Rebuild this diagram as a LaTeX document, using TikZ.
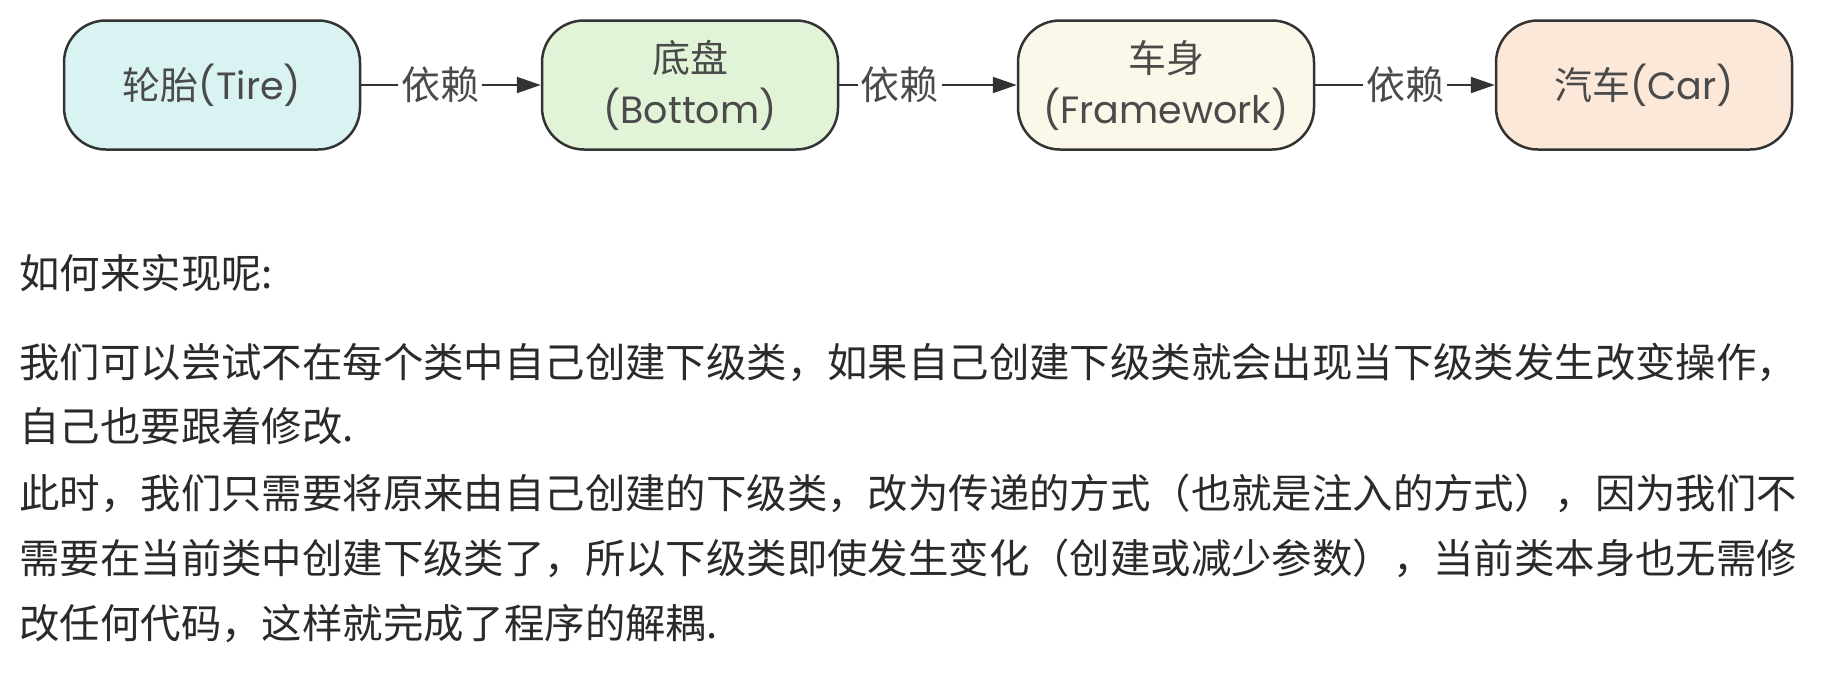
\documentclass[tikz,border=0pt]{standalone}
\usepackage{fontspec}
\setmainfont{Noto Sans CJK SC}
\newfontfamily\latf{Poppins}
\usetikzlibrary{arrows.meta}
\definecolor{tirefill}{HTML}{D9F2F2}
\definecolor{bottomfill}{HTML}{E2F4D8}
\definecolor{framefill}{HTML}{FBF8E9}
\definecolor{carfill}{HTML}{FBE8D9}
\definecolor{boxline}{HTML}{333333}
\definecolor{boxtext}{HTML}{4A4A4A}
\definecolor{bodytext}{HTML}{2A2A2A}
\tikzset{
  cls/.style={draw=boxline, line width=1.25pt, rounded corners=21pt,
    minimum width=148pt, minimum height=64.5pt, align=center,
    text=boxtext, font=\fontsize{19}{25.5}\selectfont, inner sep=0pt},
  dep/.style={draw=boxline, line width=1pt,
    -{Triangle[length=12pt,width=8pt]}},
  lbl/.style={fill=white, text=boxtext, inner sep=1.5pt,
    font=\fontsize{19.5}{22}\selectfont},
  para/.style={anchor=west, inner sep=0pt, text=bodytext,
    font=\fontsize{20.2}{24}\selectfont, text height=0.8em, text depth=0.2em},
}
\begin{document}
\begin{tikzpicture}[x=0.5pt, y=-0.5pt]
\useasboundingbox[fill=white] (0,0) rectangle (1823,687);
\node[cls, fill=tirefill]   (tire)   at (212,85)  {轮胎{\latf(Tire)}};
\node[cls, fill=bottomfill] (bottom) at (690,85)  {底盘\\{\latf(Bottom)}};
\node[cls, fill=framefill]  (frame)  at (1166,85) {车身\\{\latf(Framework)}};
\node[cls, fill=carfill]    (car)    at (1644,85) {汽车{\latf(Car)}};
\draw[dep] (tire)   -- node[lbl, pos=0.44] {依赖} (bottom);
\draw[dep] (bottom) -- node[lbl, pos=0.34] {依赖} (frame);
\draw[dep] (frame)  -- node[lbl, pos=0.50] {依赖} (car);
\node[para] (l1) at (19,282) {如何来实现呢:};
\node[para] (l2) at (19,371) {我们可以尝试不在每个类中自己创建下级类，如果自己创建下级类就会出现当下级类发生改变操作，};
\node[para] (l3) at (19,435) {自己也要跟着修改.};
\node[para] (l4) at (19,502) {此时，我们只需要将原来由自己创建的下级类，改为传递的方式（也就是注入的方式），因为我们不};
\node[para] (l5) at (19,567) {需要在当前类中创建下级类了，所以下级类即使发生变化（创建或减少参数），当前类本身也无需修};
\node[para] (l6) at (19,632) {改任何代码，这样就完成了程序的解耦.};
\end{tikzpicture}
\end{document}
